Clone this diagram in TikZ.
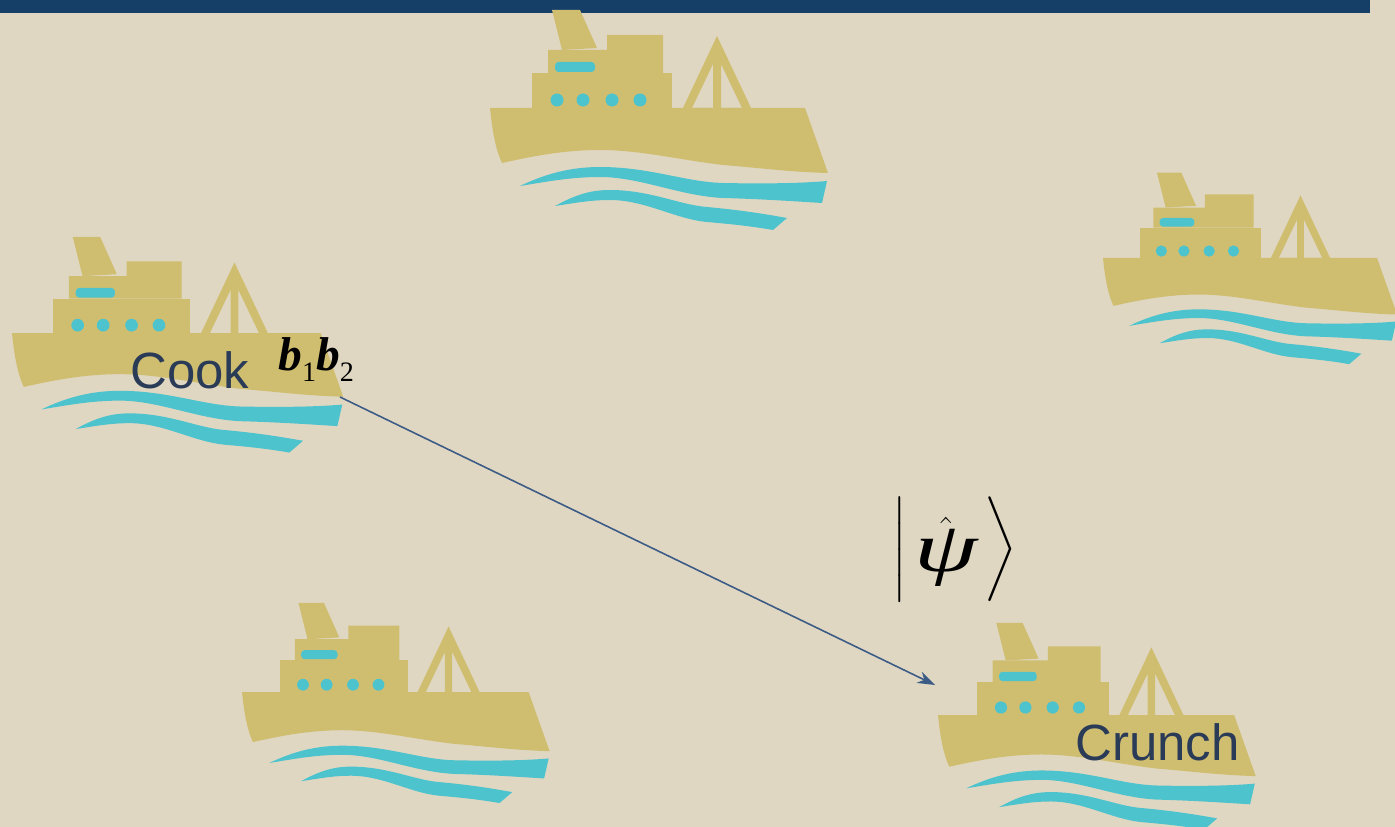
\documentclass[tikz,border=0pt]{standalone}
\usepackage{amsmath}
\usepackage{graphicx}
\usepackage{fontspec}
\usepackage{xcolor}
\usepackage{tikz}
\usetikzlibrary{arrows.meta, positioning}

\newfontfamily\arialfont{Liberation Sans}
\newfontfamily\timesfont{Liberation Serif}

\definecolor{seabg}{HTML}{E0D7C3}
\definecolor{barblue}{HTML}{163F68}
\definecolor{hullgold}{HTML}{D0BE70}
\definecolor{wavecyan}{HTML}{4CC3CD}
\definecolor{inkblue}{HTML}{2A3B57}
\definecolor{arrowblue}{HTML}{3C5B85}

\begin{document}
\begin{tikzpicture}[
  x=0.02cm, y=-0.02cm,
  >={Stealth[length=10pt, width=7pt]},
  shiplabel/.style={inner sep=0pt, text=inkblue, font=\arialfont\fontsize{29}{34}\selectfont},
  mathlabel/.style={inner sep=0pt, text=black},
  ship/.pic={
    % hull
    \fill[hullgold] (0,0) -- (315,0) -- (338,65) .. controls (300,64) and (270,60) .. (233,57)
      .. controls (190,52) and (150,42) .. (110,42) .. controls (70,42) and (35,50) .. (12,55)
      .. controls (5,40) and (2,20) .. cycle;
    % lower deck, upper house, funnel
    \fill[hullgold] (42,-35) rectangle (182,2);
    \fill[hullgold] (58,-35) -- (58,-58) -- (117,-58) -- (117,-73) -- (173,-73) -- (173,-35) -- cycle;
    \fill[hullgold] (62,-98) -- (90,-98) -- (107,-60) -- (72,-58) -- cycle;
    % A-frame mast
    \fill[hullgold, even odd rule] (227,-72) -- (192,2) -- (262,2) -- cycle
      (223,-44) -- (202,0) -- (223,0) -- cycle
      (231,-44) -- (252,0) -- (231,0) -- cycle;
    % window and portholes
    \fill[wavecyan, rounded corners=2pt] (65,-46) rectangle (105,-36);
    \foreach \px in {67,93,122,150}
      \fill[wavecyan] (\px,-8) circle [radius=6.5];
    % waves
    \fill[wavecyan] (30,78) .. controls (55,66) and (80,59) .. (110,59)
      .. controls (160,59) and (195,74) .. (233,75) .. controls (280,76) and (315,75) .. (337,73)
      -- (332,95) .. controls (300,93) and (270,91) .. (233,90)
      .. controls (190,88) and (150,69) .. (110,69) .. controls (80,69) and (55,74) .. cycle;
    \fill[wavecyan] (65,98) .. controls (85,87) and (100,82) .. (120,82)
      .. controls (160,82) and (190,97) .. (217,99) .. controls (250,102) and (275,106) .. (297,110)
      -- (283,122) .. controls (260,118) and (240,116) .. (217,114)
      .. controls (185,111) and (155,92) .. (120,92) .. controls (100,92) and (85,95) .. cycle;
  },
]
  \useasboundingbox (0,0) rectangle (1395,827);
  \fill[seabg] (0,0) rectangle (1395,827);
  \fill[barblue] (0,0) rectangle (1370,13);

  \pic (topship) at (490,108) {ship};
  \pic[scale=0.98] (cookship) at (12,333) {ship};
  \pic[scale=0.87] (eastship) at (1103,258) {ship};
  \pic[scale=0.91] (southship) at (242,692) {ship};
  \pic[scale=0.94] (crunchship) at (938,715) {ship};

  \node[shiplabel, anchor=base west] (cook) at (130,388) {Cook};
  \node[shiplabel, anchor=base west] (crunch) at (1075,760) {Crunch};
  \node[mathlabel, anchor=base west, font=\timesfont\fontsize{27}{30}\selectfont] (bits) at (278,370)
    {{\bfseries\itshape b}\raisebox{-0.25em}{\fontsize{16}{16}\selectfont 1}{\bfseries\itshape b}\raisebox{-0.25em}{\fontsize{16}{16}\selectfont 2}};
  \node[mathlabel, font=\fontsize{40}{44}\selectfont] (ket) at (955,548)
    {$\left|\vrule height 0.95em depth 0.5em width 0pt\,\hat{\text{\raisebox{-0.15em}{\scalebox{1.45}[1]{\timesfont\itshape ψ}}}}\,\right\rangle$};

  \coordinate (cookstern) at (340,397);
  \coordinate (crunchbow) at (935,685);
  \draw[->, arrowblue, line width=0.9pt] (cookstern) -- (crunchbow);
\end{tikzpicture}
\end{document}
